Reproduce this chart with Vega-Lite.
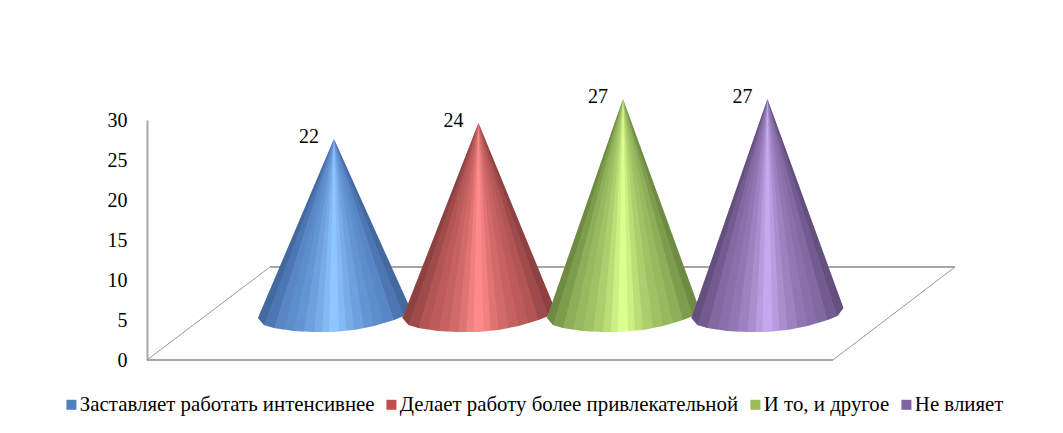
{"$schema":"https://vega.github.io/schema/vega-lite/v6.json","width":808,"height":240,"autosize":{"type":"none"},"padding":{"left":147,"top":120,"right":108,"bottom":73},"background":"#ffffff",
"config":{"view":{"stroke":null},"point":{"filled":true,"size":4}},
"data":{"values":[{"name":"Заставляет работать интенсивнее","pos":1,"value":22},{"name":"Делает работу более привлекательной","pos":2,"value":24},{"name":"И то, и другое","pos":3,"value":27},{"name":"Не влияет","pos":4,"value":27}]},
"encoding":{"x":{"field":"pos","type":"quantitative","scale":{"domain":[-0.294,5.298],"nice":false,"zero":false},"axis":null},"y":{"field":"value","type":"quantitative","scale":{"domain":[0,30],"nice":false},"axis":{"title":null,"values":[0,5,10,15,20,25,30],"grid":false,"ticks":false,"domain":true,"domainColor":"#a6a6a6","domainWidth":2,"labelFont":"Liberation Serif","labelFontSize":20,"labelColor":"#000000","labelPadding":20}}},
"layer":[
{"data":{"values":[{"edge":"front","a":-0.294,"b":0,"i":1},{"edge":"front","a":4.453,"b":0,"i":2},{"edge":"back","a":0.557,"b":11.625,"i":1},{"edge":"back","a":5.298,"b":11.625,"i":2}]},"mark":{"type":"line","color":"#a6a6a6","strokeWidth":2,"clip":false},"encoding":{"x":{"field":"a","type":"quantitative"},"y":{"field":"b","type":"quantitative"},"detail":{"field":"edge"},"order":{"field":"i"}}},
{"data":{"values":[{"edge":"left","a":-0.294,"b":0,"i":1},{"edge":"left","a":0.557,"b":11.625,"i":2},{"edge":"right","a":4.453,"b":0,"i":1},{"edge":"right","a":5.298,"b":11.625,"i":2}]},"mark":{"type":"line","color":"#999999","strokeWidth":1},"encoding":{"x":{"field":"a","type":"quantitative"},"y":{"field":"b","type":"quantitative"},"detail":{"field":"edge"},"order":{"field":"i"}}},
{"mark":{"type":"square","size":0,"opacity":1},"encoding":{"color":{"field":"name","type":"nominal","scale":{"domain":["Заставляет работать интенсивнее","Делает работу более привлекательной","И то, и другое","Не влияет"],"range":["#4f81bd","#c0504d","#9bbb59","#8064a2"]},"legend":{"title":null,"orient":"none","legendX":-86,"legendY":274,"direction":"horizontal","columns":4,"symbolType":"square","symbolSize":100,"symbolStrokeWidth":0,"symbolOpacity":1,"labelFont":"Liberation Serif","labelFontSize":20.85,"labelColor":"#000000","labelLimit":500,"labelOffset":-2,"columnPadding":6,"padding":0}}}},
{"transform":[{"filter":"datum.pos==1"}],"encoding":{"yOffset":{"value":-45},"fill":{"value":"#001c6a"}},"layer":[
{"mark":{"type":"point","opacity":1,"shape":"M0 0L-76 179L-70 186L-60 189L-40 192L-20 193L0 193L20 191L40 187L60 181L70 177L76 169Z"},"encoding":{"fill":{"value":"#8ec6ff"}}},
{"mark":{"type":"point","opacity":0.12,"shape":"M0 0L-76 179L-70 186ZM0 0L76 169L70 177Z"},"encoding":{"fill":{"value":"#000"}}},
{"mark":{"type":"point","opacity":0.12,"shape":"M0 0L-76 179L-70 186L-60 189ZM0 0L76 169L70 177L60 181Z"},"encoding":{"fill":{"value":"#000"}}},
{"mark":{"type":"point","opacity":0.06,"shape":"M0 0L-76 179L-70 186L-60 189L-50 191ZM0 0L76 169L70 177L60 181L50 185Z"}},
{"mark":{"type":"point","opacity":0.06,"shape":"M0 0L-76 179L-70 186L-60 189L-40 192ZM0 0L76 169L70 177L60 181L40 187Z"}},
{"mark":{"type":"point","opacity":0.08,"shape":"M0 0L-76 179L-70 186L-60 189L-40 192L-30 193ZM0 0L76 169L70 177L60 181L40 187L30 189Z"}},
{"mark":{"type":"point","opacity":0.08,"shape":"M0 0L-76 179L-70 186L-60 189L-40 192L-20 193ZM0 0L76 169L70 177L60 181L40 187L20 191Z"}},
{"mark":{"type":"point","opacity":0.09,"shape":"M0 0L-76 179L-70 186L-60 189L-40 192L-20 193L-12 193ZM0 0L76 169L70 177L60 181L40 187L20 191L12 191Z"}},
{"mark":{"type":"point","opacity":0.07,"shape":"M0 0L-76 179L-70 186L-60 189L-40 192L-20 193L-5 193ZM0 0L76 169L70 177L60 181L40 187L20 191L5 192Z"}}]},
{"transform":[{"filter":"datum.pos==2"}],"encoding":{"yOffset":{"value":-45},"fill":{"value":"#350000"}},"layer":[
{"mark":{"type":"point","opacity":1,"shape":"M0 0L-76 195L-70 202L-60 205L-40 208L-20 209L0 209L20 207L40 203L60 197L70 193L76 185Z"},"encoding":{"fill":{"value":"#ff8a8a"}}},
{"mark":{"type":"point","opacity":0.12,"shape":"M0 0L-76 195L-70 202ZM0 0L76 185L70 193Z"},"encoding":{"fill":{"value":"#000"}}},
{"mark":{"type":"point","opacity":0.12,"shape":"M0 0L-76 195L-70 202L-60 205ZM0 0L76 185L70 193L60 197Z"},"encoding":{"fill":{"value":"#000"}}},
{"mark":{"type":"point","opacity":0.06,"shape":"M0 0L-76 195L-70 202L-60 205L-50 207ZM0 0L76 185L70 193L60 197L50 201Z"}},
{"mark":{"type":"point","opacity":0.06,"shape":"M0 0L-76 195L-70 202L-60 205L-40 208ZM0 0L76 185L70 193L60 197L40 203Z"}},
{"mark":{"type":"point","opacity":0.08,"shape":"M0 0L-76 195L-70 202L-60 205L-40 208L-30 209ZM0 0L76 185L70 193L60 197L40 203L30 205Z"}},
{"mark":{"type":"point","opacity":0.08,"shape":"M0 0L-76 195L-70 202L-60 205L-40 208L-20 209ZM0 0L76 185L70 193L60 197L40 203L20 207Z"}},
{"mark":{"type":"point","opacity":0.09,"shape":"M0 0L-76 195L-70 202L-60 205L-40 208L-20 209L-12 209ZM0 0L76 185L70 193L60 197L40 203L20 207L12 207Z"}},
{"mark":{"type":"point","opacity":0.07,"shape":"M0 0L-76 195L-70 202L-60 205L-40 208L-20 209L-5 209ZM0 0L76 185L70 193L60 197L40 203L20 207L5 208Z"}}]},
{"transform":[{"filter":"datum.pos==3"}],"encoding":{"yOffset":{"value":-45},"fill":{"value":"#102b00"}},"layer":[
{"mark":{"type":"point","opacity":1,"shape":"M0 0L-76 219L-70 226L-60 229L-40 232L-20 233L0 233L20 231L40 227L60 221L70 217L76 209Z"},"encoding":{"fill":{"value":"#dcff8e"}}},
{"mark":{"type":"point","opacity":0.12,"shape":"M0 0L-76 219L-70 226ZM0 0L76 209L70 217Z"},"encoding":{"fill":{"value":"#000"}}},
{"mark":{"type":"point","opacity":0.12,"shape":"M0 0L-76 219L-70 226L-60 229ZM0 0L76 209L70 217L60 221Z"},"encoding":{"fill":{"value":"#000"}}},
{"mark":{"type":"point","opacity":0.06,"shape":"M0 0L-76 219L-70 226L-60 229L-50 231ZM0 0L76 209L70 217L60 221L50 225Z"}},
{"mark":{"type":"point","opacity":0.06,"shape":"M0 0L-76 219L-70 226L-60 229L-40 232ZM0 0L76 209L70 217L60 221L40 227Z"}},
{"mark":{"type":"point","opacity":0.08,"shape":"M0 0L-76 219L-70 226L-60 229L-40 232L-30 233ZM0 0L76 209L70 217L60 221L40 227L30 229Z"}},
{"mark":{"type":"point","opacity":0.08,"shape":"M0 0L-76 219L-70 226L-60 229L-40 232L-20 233ZM0 0L76 209L70 217L60 221L40 227L20 231Z"}},
{"mark":{"type":"point","opacity":0.09,"shape":"M0 0L-76 219L-70 226L-60 229L-40 232L-20 233L-12 233ZM0 0L76 209L70 217L60 221L40 227L20 231L12 231Z"}},
{"mark":{"type":"point","opacity":0.07,"shape":"M0 0L-76 219L-70 226L-60 229L-40 232L-20 233L-5 233ZM0 0L76 209L70 217L60 221L40 227L20 231L5 232Z"}}]},
{"transform":[{"filter":"datum.pos==4"}],"encoding":{"yOffset":{"value":-45},"fill":{"value":"#100020"}},"layer":[
{"mark":{"type":"point","opacity":1,"shape":"M0 0L-76 219L-70 226L-60 229L-40 232L-20 233L0 233L20 231L40 227L60 221L70 217L76 209Z"},"encoding":{"fill":{"value":"#c6a8ee"}}},
{"mark":{"type":"point","opacity":0.12,"shape":"M0 0L-76 219L-70 226ZM0 0L76 209L70 217Z"},"encoding":{"fill":{"value":"#000"}}},
{"mark":{"type":"point","opacity":0.12,"shape":"M0 0L-76 219L-70 226L-60 229ZM0 0L76 209L70 217L60 221Z"},"encoding":{"fill":{"value":"#000"}}},
{"mark":{"type":"point","opacity":0.06,"shape":"M0 0L-76 219L-70 226L-60 229L-50 231ZM0 0L76 209L70 217L60 221L50 225Z"}},
{"mark":{"type":"point","opacity":0.06,"shape":"M0 0L-76 219L-70 226L-60 229L-40 232ZM0 0L76 209L70 217L60 221L40 227Z"}},
{"mark":{"type":"point","opacity":0.08,"shape":"M0 0L-76 219L-70 226L-60 229L-40 232L-30 233ZM0 0L76 209L70 217L60 221L40 227L30 229Z"}},
{"mark":{"type":"point","opacity":0.08,"shape":"M0 0L-76 219L-70 226L-60 229L-40 232L-20 233ZM0 0L76 209L70 217L60 221L40 227L20 231Z"}},
{"mark":{"type":"point","opacity":0.09,"shape":"M0 0L-76 219L-70 226L-60 229L-40 232L-20 233L-12 233ZM0 0L76 209L70 217L60 221L40 227L20 231L12 231Z"}},
{"mark":{"type":"point","opacity":0.07,"shape":"M0 0L-76 219L-70 226L-60 229L-40 232L-20 233L-5 233ZM0 0L76 209L70 217L60 221L40 227L20 231L5 232Z"}}]},
{"mark":{"type":"text","font":"Liberation Serif","fontSize":20,"color":"#000000","xOffset":-25,"yOffset":-47.5,"align":"center","baseline":"middle"},"encoding":{"text":{"field":"value","type":"quantitative"}}}
]}
